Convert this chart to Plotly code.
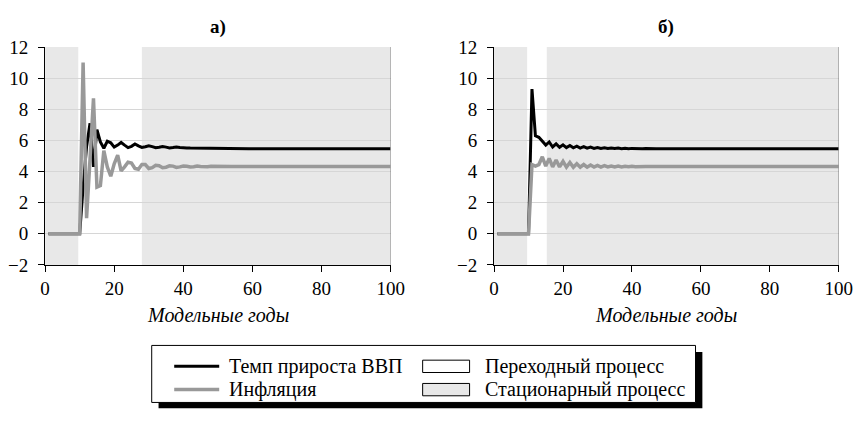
import plotly.graph_objects as go

# ---------------- data ----------------
years = list(range(1, 101))

gdp_a = [0, 0, 0, 0, 0, 0, 0, 0, 0, 0,
         3.0, 5.6, 7.1, 4.3, 6.7, 5.9, 5.5, 5.95, 5.85, 5.57,
         5.7, 5.87, 5.7, 5.54, 5.62, 5.77, 5.65, 5.55, 5.6, 5.66,
         5.6, 5.53, 5.56, 5.61, 5.57, 5.52, 5.54, 5.57, 5.54, 5.51,
         5.52, 5.51, 5.51, 5.50, 5.50, 5.50, 5.49, 5.49, 5.49, 5.48,
         5.48, 5.48, 5.48, 5.47, 5.47, 5.47, 5.47, 5.47, 5.47, 5.46,
         5.46, 5.46, 5.46, 5.46, 5.46, 5.46, 5.46, 5.46, 5.46, 5.46,
         5.46, 5.46, 5.46, 5.46, 5.46, 5.46, 5.46, 5.46, 5.46, 5.46,
         5.46, 5.46, 5.46, 5.46, 5.46, 5.46, 5.46, 5.46, 5.46, 5.46,
         5.46, 5.46, 5.46, 5.46, 5.46, 5.46, 5.46, 5.46, 5.46, 5.46]

inf_a = [0, 0, 0, 0, 0, 0, 0, 0, 0, 0,
         11.0, 1.0, 4.8, 8.7, 3.0, 3.1, 5.35, 4.3, 3.7, 4.5,
         5.05, 4.05, 4.3, 4.6, 4.55, 4.2, 4.15, 4.45, 4.45, 4.2,
         4.25, 4.4, 4.38, 4.25, 4.28, 4.37, 4.35, 4.27, 4.3, 4.36,
         4.34, 4.29, 4.31, 4.35, 4.33, 4.3, 4.31, 4.34, 4.33, 4.31,
         4.32, 4.33, 4.32, 4.32, 4.32, 4.32, 4.32, 4.32, 4.32, 4.32,
         4.32, 4.32, 4.32, 4.32, 4.32, 4.32, 4.32, 4.32, 4.32, 4.32,
         4.32, 4.32, 4.32, 4.32, 4.32, 4.32, 4.32, 4.32, 4.32, 4.32,
         4.32, 4.32, 4.32, 4.32, 4.32, 4.32, 4.32, 4.32, 4.32, 4.32,
         4.32, 4.32, 4.32, 4.32, 4.32, 4.32, 4.32, 4.32, 4.32, 4.32]

gdp_b = [0, 0, 0, 0, 0, 0, 0, 0, 0, 0,
         9.3, 6.3, 6.2, 5.95, 5.7, 5.9, 5.58, 5.78, 5.56, 5.72,
         5.54, 5.67, 5.53, 5.63, 5.51, 5.6, 5.5, 5.57, 5.49, 5.55,
         5.49, 5.53, 5.48, 5.52, 5.48, 5.51, 5.47, 5.5, 5.47, 5.49,
         5.47, 5.48, 5.47, 5.48, 5.46, 5.47, 5.46, 5.47, 5.46, 5.46,
         5.46, 5.46, 5.46, 5.46, 5.46, 5.46, 5.46, 5.46, 5.46, 5.46,
         5.46, 5.46, 5.46, 5.46, 5.46, 5.46, 5.46, 5.46, 5.46, 5.46,
         5.46, 5.46, 5.46, 5.46, 5.46, 5.46, 5.46, 5.46, 5.46, 5.46,
         5.46, 5.46, 5.46, 5.46, 5.46, 5.46, 5.46, 5.46, 5.46, 5.46,
         5.46, 5.46, 5.46, 5.46, 5.46, 5.46, 5.46, 5.46, 5.46, 5.46]

inf_b = [0, 0, 0, 0, 0, 0, 0, 0, 0, 0,
         4.45, 4.35, 4.45, 4.95, 4.35, 4.85, 4.3, 4.75, 4.3, 4.65,
         4.28, 4.58, 4.28, 4.5, 4.28, 4.45, 4.28, 4.42, 4.29, 4.4,
         4.29, 4.38, 4.3, 4.36, 4.3, 4.35, 4.3, 4.34, 4.31, 4.34,
         4.31, 4.33, 4.31, 4.33, 4.32, 4.33, 4.32, 4.32, 4.32, 4.32,
         4.32, 4.32, 4.32, 4.32, 4.32, 4.32, 4.32, 4.32, 4.32, 4.32,
         4.32, 4.32, 4.32, 4.32, 4.32, 4.32, 4.32, 4.32, 4.32, 4.32,
         4.32, 4.32, 4.32, 4.32, 4.32, 4.32, 4.32, 4.32, 4.32, 4.32,
         4.32, 4.32, 4.32, 4.32, 4.32, 4.32, 4.32, 4.32, 4.32, 4.32,
         4.32, 4.32, 4.32, 4.32, 4.32, 4.32, 4.32, 4.32, 4.32, 4.32]

# phase boundaries (model years): pre-shock stationary, transition, stationary
phases_a = [0, 9.6, 28, 100]
phases_b = [0, 9.6, 15.3, 100]

panel_titles = ["а)", "б)"]
x_title = "Модельные годы"
series_names = ["Темп прироста ВВП", "Инфляция"]
phase_names = ["Переходный процесс", "Стационарный процесс"]

x_ticks = [0, 20, 40, 60, 80, 100]
y_ticks = [-2, 0, 2, 4, 6, 8, 10, 12]

# ---------------- style ----------------
W, H = 867, 422
FONT = "Liberation Serif"
FS = 19
LEG_FS = 20
BLACK = "#000000"
GRAY_LINE = "#999999"
GRAY_FILL = "#e8e8e8"
GRID = "#d6d6d6"


def px(x):
    return x / W


def py(y):
    return 1 - y / H


fig = go.Figure()

panels = [
    ("x", "y", gdp_a, inf_a, phases_a),
    ("x2", "y2", gdp_b, inf_b, phases_b),
]
for xa, ya, g, inf, ph in panels:
    fig.add_trace(go.Scatter(x=years, y=g, mode="lines", name=series_names[0],
                             line=dict(color=BLACK, width=3), xaxis=xa, yaxis=ya,
                             showlegend=False))
    fig.add_trace(go.Scatter(x=years, y=inf, mode="lines", name=series_names[1],
                             line=dict(color=GRAY_LINE, width=3.5), xaxis=xa, yaxis=ya,
                             showlegend=False))
    # shading of stationary phases
    for x0, x1 in [(ph[0], ph[1]), (ph[2], ph[3])]:
        fig.add_shape(type="rect", xref=xa, yref=ya, x0=x0, x1=x1, y0=-2, y1=12,
                      fillcolor=GRAY_FILL, line=dict(width=0), layer="below")
    fig.add_shape(type="line", xref=xa, yref=ya, x0=100, x1=100, y0=-2, y1=12,
                  line=dict(color="#808080", width=1))

axis_common = dict(ticks="outside", ticklen=6, tickcolor=BLACK, showline=True,
                   linecolor=BLACK, linewidth=1, zeroline=False,
                   tickfont=dict(family=FONT, size=FS, color=BLACK))

dom_a = [px(41), px(394.3)]
dom_b = [px(500), px(852.5)]
dom_y = [py(268.3), py(39)]

fig.update_layout(
    width=W, height=H,
    margin=dict(l=0, r=0, t=0, b=0),
    paper_bgcolor="white", plot_bgcolor="white",
    font=dict(family=FONT),
    xaxis=dict(domain=dom_a, range=[0, 100], tickvals=x_ticks, showgrid=False,
               anchor="y", **axis_common),
    yaxis=dict(domain=dom_y, range=[-2, 12], tickvals=y_ticks, showgrid=True,
               gridcolor=GRID, gridwidth=1, anchor="x", ticklabelstandoff=6, **axis_common),
    xaxis2=dict(domain=dom_b, range=[0, 100], tickvals=x_ticks, showgrid=False,
                anchor="y2", **axis_common),
    yaxis2=dict(domain=dom_y, range=[-2, 12], tickvals=y_ticks, showgrid=True,
                gridcolor=GRID, gridwidth=1, anchor="x2", ticklabelstandoff=6, **axis_common),
)

# panel titles and axis titles
for dom, t in [(dom_a, panel_titles[0]), (dom_b, panel_titles[1])]:
    cx = (dom[0] + dom[1]) / 2
    fig.add_annotation(x=cx, y=py(18), xref="paper", yref="paper", text="<b>" + t + "</b>",
                       showarrow=False, font=dict(family=FONT, size=FS, color=BLACK),
                       xanchor="center", yanchor="middle")
    fig.add_annotation(x=cx, y=py(321), xref="paper", yref="paper", text="<i>" + x_title + "</i>",
                       showarrow=False, font=dict(family=FONT, size=20, color=BLACK),
                       xanchor="center", yanchor="middle")

# ---------------- manual legend ----------------
LX0, LX1, LY0, LY1 = 150, 706, 353, 413
fig.add_shape(type="rect", xref="paper", yref="paper",
              x0=px(LX0 + 7), x1=px(LX1 + 7), y0=py(LY1 + 6), y1=py(LY0 + 7),
              fillcolor=BLACK, line=dict(width=0))
fig.add_shape(type="rect", xref="paper", yref="paper",
              x0=px(LX0), x1=px(LX1), y0=py(LY1), y1=py(LY0),
              fillcolor="white", line=dict(color=BLACK, width=1))
rows = [375, 399.5]
for r, (name, col, w) in zip(rows, [(series_names[0], BLACK, 3), (series_names[1], GRAY_LINE, 3.5)]):
    fig.add_shape(type="line", xref="paper", yref="paper", x0=px(173), x1=px(219),
                  y0=py(r), y1=py(r), line=dict(color=col, width=w))
    fig.add_annotation(x=px(227), y=py(r), xref="paper", yref="paper", text=name,
                       showarrow=False, xanchor="left", yanchor="middle",
                       font=dict(family=FONT, size=LEG_FS, color=BLACK))
for r, (name, fill) in zip(rows, [(phase_names[0], "white"), (phase_names[1], GRAY_FILL)]):
    fig.add_shape(type="rect", xref="paper", yref="paper", x0=px(427), x1=px(475),
                  y0=py(r + 6.5), y1=py(r - 6.5), fillcolor=fill,
                  line=dict(color=BLACK, width=1))
    fig.add_annotation(x=px(489), y=py(r), xref="paper", yref="paper", text=name,
                       showarrow=False, xanchor="left", yanchor="middle",
                       font=dict(family=FONT, size=LEG_FS, color=BLACK))

fig.write_html("out.html")
